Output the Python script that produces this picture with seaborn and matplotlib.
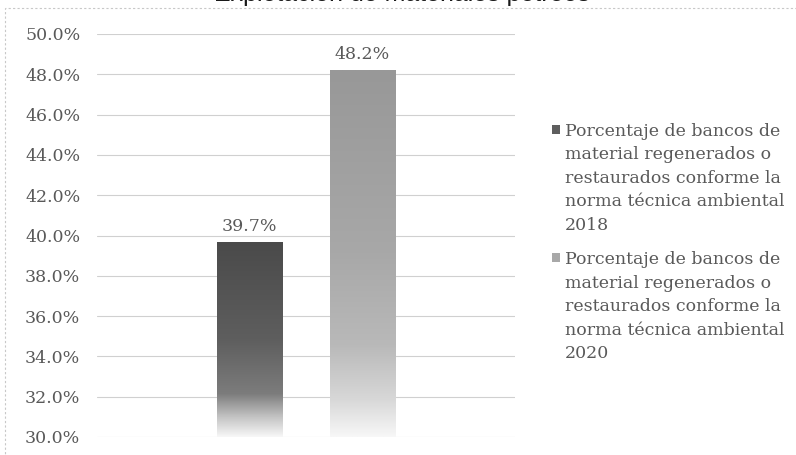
import numpy as np
import pandas as pd
import seaborn as sns
import matplotlib
matplotlib.use("Agg")
import matplotlib.pyplot as plt
from matplotlib.colors import LinearSegmentedColormap
from matplotlib.patches import Rectangle, Patch
from matplotlib.legend_handler import HandlerPatch

# ---- data ----
series_labels = [
    "Porcentaje de bancos de\nmaterial regenerados o\nrestaurados conforme la\nnorma técnica ambiental\n2018",
    "Porcentaje de bancos de\nmaterial regenerados o\nrestaurados conforme la\nnorma técnica ambiental\n2020",
]
values = [39.7, 48.2]
y_ticks = [30, 32, 34, 36, 38, 40, 42, 44, 46, 48, 50]
title = "Explotación de materiales pétreos"

# ---- styling ----
gradient_stops = [
    [(0.0, "#f7f7f7"), (0.1, "#c4c4c4"), (0.22, "#7c7c7c"), (0.5, "#5e5e5e"), (1.0, "#4a4a4a")],
    [(0.0, "#f7f7f7"), (0.1, "#d8d8d8"), (0.25, "#b9b9b9"), (0.5, "#a8a8a8"), (1.0, "#989898")],
]
swatch_colors = ["#5e5e5e", "#a8a8a8"]
serif = "DejaVu Serif"
text_gray = "#595959"
fs = 12.5
line_spacing = 1.5

sns.set_theme(style="white")
plt.rcParams["font.family"] = [serif]

fig = plt.figure(figsize=(7.96, 4.55), dpi=100)
ax = fig.add_axes([97 / 796, 1 - 437 / 455, (515 - 97) / 796, (437 - 34) / 455])

df = pd.DataFrame({"serie": series_labels, "valor": values})
sns.barplot(data=df, x="serie", y="valor", hue="serie", palette=swatch_colors,
            width=0.578, legend=False, ax=ax, zorder=2)

ax.set_yticks(y_ticks)
ax.set_yticklabels([f"{t:.1f}%" for t in y_ticks], fontsize=fs, color=text_gray)
ax.tick_params(axis="y", length=0, pad=12)
ax.set_xticks([])
ax.set_xlabel("")
ax.set_ylabel("")
for s in ax.spines.values():
    s.set_visible(False)
ax.yaxis.grid(True, color="#d0d0d0", linewidth=0.8)
ax.set_axisbelow(True)

bars = sorted([p for p in ax.patches if isinstance(p, Rectangle)], key=lambda p: p.get_x())

# vertical gradient fill for each bar, clipped to the bar shape
for patch, stops in zip(bars, gradient_stops):
    cmap = LinearSegmentedColormap.from_list("g", stops)
    x0, w = patch.get_x(), patch.get_width()
    top = patch.get_y() + patch.get_height()
    grad = np.linspace(0, 1, 256).reshape(-1, 1)
    im = ax.imshow(grad, cmap=cmap, origin="lower", aspect="auto",
                   extent=[x0, x0 + w, 30, top], zorder=3, interpolation="bilinear")
    im.set_clip_path(patch)
    patch.set_facecolor("none")
    patch.set_edgecolor("none")
    # value label above the bar
    ax.annotate(f"{top:.1f}%", (x0 + w / 2, top), xytext=(0, 5),
                textcoords="offset points", ha="center", va="bottom",
                fontsize=fs, color=text_gray, zorder=4)
ax.set_xlim(-1.358, 2.358)
ax.set_ylim(30, 50)


# legend: swatch aligned with the first line of each label
line_pitch_pt = 23.3 * 72 / 100
def top_swatch(legend, orig_handle, xdescent, ydescent, width, height, fontsize):
    return Rectangle((-xdescent, -ydescent + 2 * line_pitch_pt + 2.0), width, height)

handles = [Patch(facecolor=c, edgecolor="none") for c in swatch_colors]
leg = fig.legend(handles, series_labels, loc="upper left",
                 bbox_to_anchor=(552 / 796, 1 - 123 / 455),
                 frameon=False, fontsize=fs, borderpad=0, borderaxespad=0,
                 handlelength=0.45, handleheight=0.45, handletextpad=0.3,
                 labelspacing=1.0,
                 handler_map={Patch: HandlerPatch(patch_func=top_swatch)})
for t in leg.get_texts():
    t.set_color(text_gray)
    t.set_linespacing(line_spacing)

# chart frame and title cut at the top edge
fig.patches.append(Rectangle((5 / 796, -0.05), 1.0, (455 - 8) / 455 + 0.05,
                             transform=fig.transFigure, fill=False,
                             edgecolor="#c8c8c8", linewidth=0.8,
                             linestyle=(0, (2, 2))))
fig.text(402 / 796, 1 - 0.5 / 455, title, ha="center", va="baseline",
         fontsize=18, family="Liberation Sans", color="#1a1a1a")

fig.savefig("out.png", dpi=100)
